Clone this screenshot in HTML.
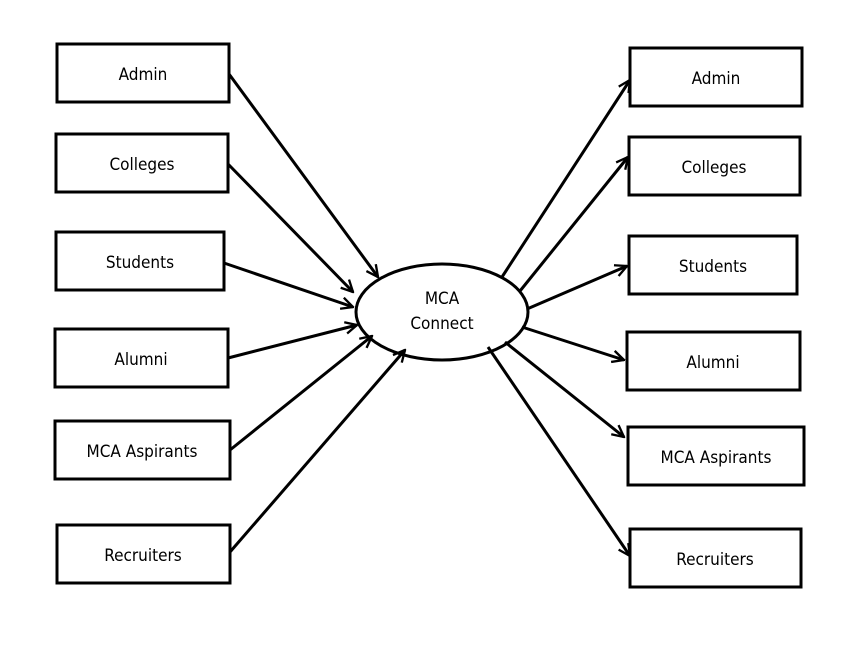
<!DOCTYPE html>
<html><head><meta charset="utf-8"><style>
html,body{margin:0;padding:0;background:#fff;width:860px;height:653px;overflow:hidden}
</style></head><body>
<svg width="860" height="653" viewBox="0 0 860 653" xmlns="http://www.w3.org/2000/svg">
<defs><marker id="a" viewBox="0 0 12 12" refX="11" refY="6" markerWidth="14" markerHeight="14" markerUnits="userSpaceOnUse" orient="auto"><path d="M1,1 L11,6 L1,11" fill="none" stroke="#000" stroke-width="2"/></marker></defs>
<g fill="#fff" stroke="#000" stroke-width="3">
<rect x="57" y="44" width="172" height="58"/>
<rect x="56" y="134" width="172" height="58"/>
<rect x="56" y="232" width="168" height="58"/>
<rect x="55" y="329" width="173" height="58"/>
<rect x="55" y="421" width="175" height="58"/>
<rect x="57" y="525" width="173" height="58"/>
<rect x="630" y="48" width="172" height="58"/>
<rect x="629" y="137" width="171" height="58"/>
<rect x="629" y="236" width="168" height="58"/>
<rect x="627" y="332" width="173" height="58"/>
<rect x="628" y="427" width="176" height="58"/>
<rect x="630" y="529" width="171" height="58"/>
<ellipse cx="442" cy="312" rx="86" ry="48"/>
</g>
<g stroke="#000" stroke-width="3" marker-end="url(#a)">
<line x1="229" y1="74" x2="378" y2="277"/>
<line x1="228" y1="164" x2="353" y2="292"/>
<line x1="224" y1="263" x2="353" y2="307"/>
<line x1="228" y1="358" x2="357" y2="325"/>
<line x1="230" y1="450" x2="372" y2="336"/>
<line x1="230" y1="552" x2="405" y2="350"/>
<line x1="502" y1="277" x2="630" y2="80"/>
<line x1="520" y1="291" x2="628" y2="157"/>
<line x1="527" y1="309" x2="627" y2="266"/>
<line x1="522" y1="327" x2="624" y2="360"/>
<line x1="505" y1="342" x2="624" y2="437"/>
<line x1="488" y1="347" x2="630" y2="556"/>
</g>
<g font-family="'DejaVu Sans Condensed','DejaVu Sans',sans-serif" font-size="17" text-anchor="middle" fill="#000">
<text x="143" y="80">Admin</text>
<text x="142" y="170">Colleges</text>
<text x="140" y="268">Students</text>
<text x="141" y="365">Alumni</text>
<text x="142" y="457">MCA Aspirants</text>
<text x="143" y="561">Recruiters</text>
<text x="716" y="84">Admin</text>
<text x="714" y="173">Colleges</text>
<text x="713" y="272">Students</text>
<text x="713" y="368">Alumni</text>
<text x="716" y="463">MCA Aspirants</text>
<text x="715" y="565">Recruiters</text>
<text x="442" y="304">MCA</text>
<text x="442" y="329">Connect</text>
</g>
</svg>
</body></html>
